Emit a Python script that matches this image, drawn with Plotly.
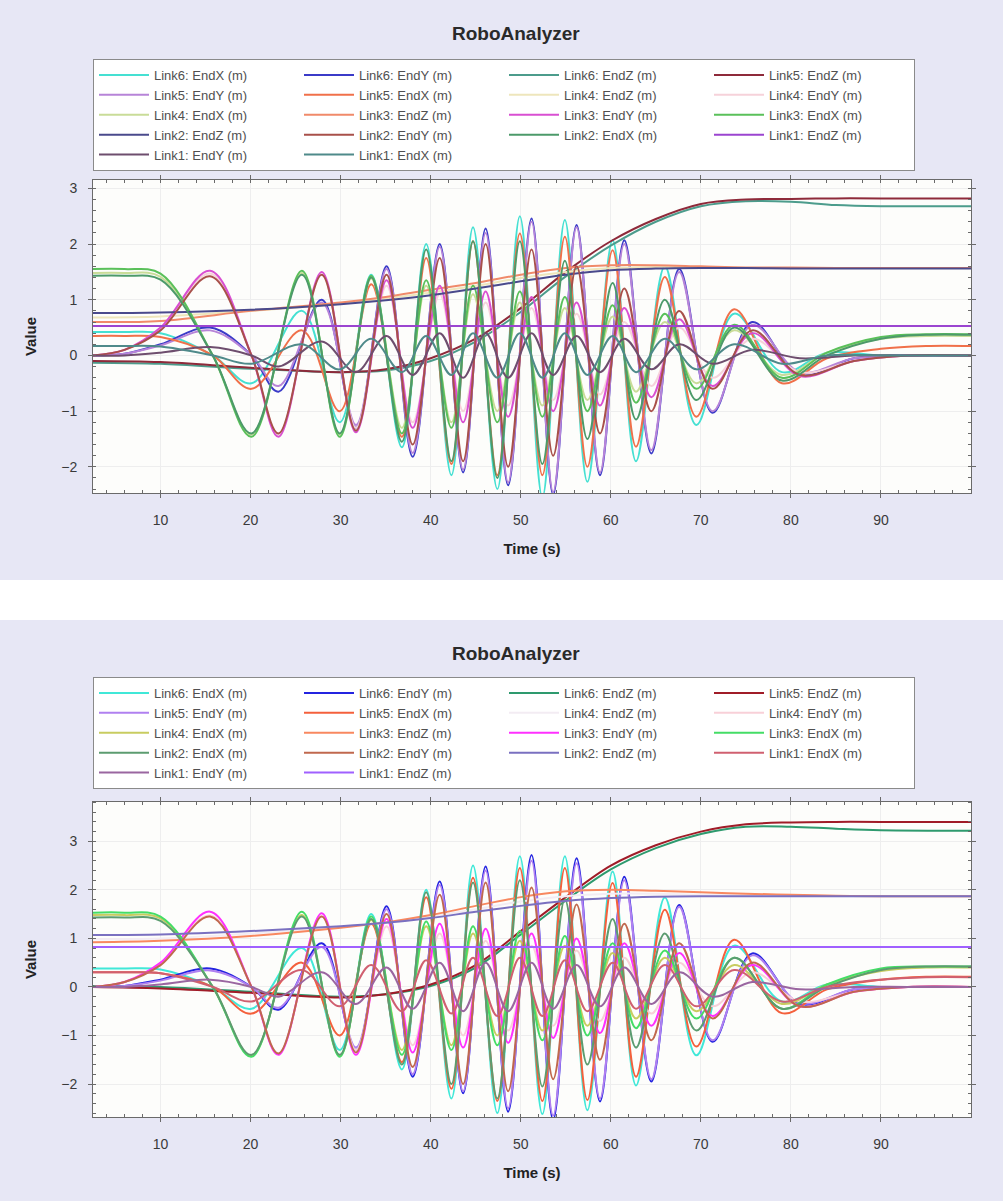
import plotly.graph_objects as go

# ---------------- time knots (s) ----------------
T_X = [2.5, 6, 10, 15.8, 20.1, 25.7, 29.9, 33.4, 36.8, 39.5, 42.3, 44.7, 47.4, 49.9, 52.4,
       54.9, 57.4, 60.2, 62.8, 66.0, 69.5, 73.7, 79.0, 84, 90, 95, 100]
T_Y = [2.5, 6, 10, 15.5, 20.1, 23.1, 27.9, 31.7, 35.1, 38.0, 41.0, 43.6, 46.1, 48.6, 51.2,
       53.6, 56.2, 58.8, 61.5, 64.5, 67.6, 71.3, 75.7, 81.0, 87, 93, 100]
T_Z = [2.5, 10, 20, 30, 35, 40, 45, 50, 55, 60, 65, 70, 75, 80, 85, 90, 100]
T_CONST = [2.5, 100]

# ---------------- top chart values (m) ----------------
TOP_L6_X = [0.42, 0.42, 0.40, 0.0, -0.5, 0.8, -1.2, 1.45, -1.65, 2.0, -2.15, 2.3, -2.4, 2.5, -2.55, 2.43, -2.27, 2.07, -1.9, 1.6, -1.25, 0.75, -0.3, 0.05, 0.0, 0.0, 0.0]
TOP_L6_Y = [0.0, 0.03, 0.2, 0.5, 0.0, -0.65, 1.0, -1.3, 1.6, -1.82, 2.0, -2.1, 2.28, -2.33, 2.46, -2.5, 2.34, -2.15, 2.07, -1.76, 1.55, -1.03, 0.6, -0.35, -0.05, 0.0, 0.0]
TOP_L6_Z = [-0.13, -0.15, -0.24, -0.3, -0.27, -0.1, 0.25, 0.78, 1.42, 1.97, 2.4, 2.68, 2.77, 2.76, 2.7, 2.68, 2.68]
TOP_L5_Z = [-0.1, -0.12, -0.22, -0.3, -0.25, -0.05, 0.3, 0.85, 1.5, 2.05, 2.45, 2.72, 2.8, 2.81, 2.82, 2.82, 2.82]
TOP_L5_Y = [0.0, 0.03, 0.18, 0.45, 0.0, -0.55, 0.95, -1.25, 1.55, -1.75, 1.95, -2.05, 2.2, -2.28, 2.4, -2.45, 2.3, -2.1, 2.0, -1.7, 1.5, -1.0, 0.55, -0.3, -0.05, 0.0, 0.0]
TOP_L5_X = [0.35, 0.35, 0.33, 0.0, -0.6, 0.45, -1.0, 1.28, -1.46, 1.75, -1.95, 2.05, -2.15, 2.19, -2.15, 2.13, -2.0, 1.89, -1.64, 1.41, -1.1, 0.83, -0.5, -0.05, 0.12, 0.17, 0.17]
TOP_L4_Z = [0.68, 0.7, 0.8, 0.93, 1.02, 1.13, 1.25, 1.39, 1.5, 1.57, 1.59, 1.58, 1.57, 1.57, 1.57, 1.57, 1.57]
TOP_L4_Y = [0.0, 0.1, 0.48, 1.47, 0.0, -1.42, 1.45, -1.3, 1.25, -1.2, 1.1, -1.0, 0.95, -0.9, 0.85, -0.8, 0.75, -0.7, 0.6, -0.55, 0.5, -0.4, 0.3, -0.3, -0.1, 0.0, 0.0]
TOP_L4_X = [1.48, 1.48, 1.41, 0.0, -1.42, 1.48, -1.42, 1.38, -1.3, 1.25, -1.2, 1.1, -1.0, 0.95, -0.9, 0.85, -0.8, 0.7, -0.65, 0.6, -0.5, 0.45, -0.35, 0.05, 0.3, 0.35, 0.35]
TOP_L3_Z = [0.6, 0.62, 0.8, 0.95, 1.05, 1.18, 1.3, 1.45, 1.57, 1.62, 1.62, 1.6, 1.58, 1.58, 1.57, 1.57, 1.57]
TOP_L3_Y = [0.0, 0.1, 0.5, 1.52, 0.0, -1.46, 1.5, -1.38, 1.35, -1.3, 1.25, -1.2, 1.15, -1.1, 1.05, -1.0, 0.95, -0.9, 0.85, -0.75, 0.65, -0.55, 0.4, -0.37, -0.1, 0.0, 0.0]
TOP_L3_X = [1.55, 1.55, 1.47, 0.0, -1.46, 1.52, -1.46, 1.43, -1.4, 1.35, -1.3, 1.25, -1.2, 1.15, -1.1, 1.05, -1.0, 0.9, -0.85, 0.75, -0.6, 0.55, -0.4, 0.05, 0.33, 0.38, 0.38]
TOP_L2_Z = [0.76, 0.77, 0.82, 0.92, 0.99, 1.08, 1.2, 1.33, 1.45, 1.53, 1.56, 1.57, 1.57, 1.56, 1.56, 1.56, 1.56]
TOP_L2_Y = [0.0, 0.1, 0.45, 1.42, 0.0, -1.4, 1.45, -1.35, 1.45, -1.6, 1.75, -1.9, 2.0, -2.0, 1.9, -1.8, 1.6, -1.4, 1.2, -1.0, 0.8, -0.6, 0.45, -0.35, -0.1, 0.0, 0.0]
TOP_L2_X = [1.43, 1.43, 1.36, 0.0, -1.4, 1.45, -1.4, 1.4, -1.55, 1.9, -1.9, 2.05, -2.2, 2.05, -1.95, 1.7, -1.5, 1.3, -1.15, 1.0, -0.8, 0.5, -0.45, 0.0, 0.3, 0.37, 0.37]
TOP_L1_Z = [0.53, 0.53]
TOP_L1_Y = [0.0, 0.0, 0.05, 0.15, 0.0, -0.2, 0.25, -0.3, 0.35, -0.35, 0.4, -0.4, 0.4, -0.4, 0.4, -0.35, 0.35, -0.3, 0.3, -0.25, 0.2, -0.15, 0.1, -0.05, 0.0, 0.0, 0.0]
TOP_L1_X = [0.17, 0.17, 0.16, 0.0, -0.15, 0.2, -0.25, 0.3, -0.3, 0.35, -0.35, 0.4, -0.4, 0.4, -0.4, 0.4, -0.35, 0.35, -0.3, 0.3, -0.25, 0.2, -0.15, 0.0, 0.0, 0.0, 0.0]

# ---------------- bottom chart values (m) ----------------
BOT_L6_X = [0.38, 0.38, 0.36, 0.0, -0.45, 0.8, -1.3, 1.5, -1.7, 2.0, -2.3, 2.5, -2.6, 2.69, -2.62, 2.69, -2.54, 2.38, -2.03, 1.84, -1.41, 0.85, -0.3, 0.05, 0.0, 0.0, 0.0]
BOT_L6_Y = [0.0, 0.02, 0.15, 0.38, 0.0, -0.47, 0.9, -1.3, 1.66, -1.85, 2.17, -2.19, 2.48, -2.57, 2.72, -2.74, 2.65, -2.36, 2.27, -1.95, 1.69, -1.13, 0.69, -0.35, -0.05, 0.0, 0.0]
BOT_L6_Z = [0.02, 0.0, -0.1, -0.2, -0.15, 0.02, 0.4, 1.08, 1.78, 2.42, 2.86, 3.15, 3.3, 3.3, 3.26, 3.23, 3.22]
BOT_L5_Z = [0.0, -0.03, -0.12, -0.22, -0.15, 0.05, 0.45, 1.15, 1.85, 2.5, 2.92, 3.2, 3.35, 3.39, 3.4, 3.4, 3.4]
BOT_L5_Y = [0.0, 0.02, 0.13, 0.34, 0.0, -0.43, 0.82, -1.25, 1.6, -1.8, 2.1, -2.15, 2.4, -2.5, 2.6, -2.65, 2.55, -2.3, 2.2, -1.9, 1.65, -1.1, 0.65, -0.33, -0.05, 0.0, 0.0]
BOT_L5_X = [0.3, 0.3, 0.28, 0.0, -0.55, 0.5, -1.0, 1.3, -1.55, 1.85, -2.1, 2.25, -2.35, 2.45, -2.35, 2.45, -2.33, 2.14, -1.85, 1.59, -1.23, 0.97, -0.54, -0.05, 0.15, 0.21, 0.21]
BOT_L4_Z = [0.98, 1.0, 1.1, 1.23, 1.32, 1.45, 1.6, 1.76, 1.87, 1.92, 1.92, 1.9, 1.89, 1.88, 1.87, 1.87, 1.87]
BOT_L4_Y = [0.0, 0.1, 0.48, 1.47, 0.0, -1.38, 1.45, -1.3, 1.25, -1.2, 1.1, -1.0, 0.95, -0.9, 0.85, -0.8, 0.75, -0.7, 0.6, -0.55, 0.5, -0.4, 0.3, -0.3, -0.1, 0.0, 0.0]
BOT_L4_X = [1.48, 1.48, 1.41, 0.0, -1.42, 1.48, -1.42, 1.38, -1.3, 1.25, -1.2, 1.1, -1.0, 0.95, -0.9, 0.85, -0.8, 0.7, -0.65, 0.6, -0.5, 0.45, -0.35, 0.05, 0.33, 0.4, 0.4]
BOT_L3_Z = [0.92, 0.95, 1.05, 1.22, 1.33, 1.48, 1.67, 1.85, 1.97, 2.0, 1.98, 1.95, 1.92, 1.9, 1.88, 1.87, 1.87]
BOT_L3_Y = [0.0, 0.1, 0.5, 1.55, 0.0, -1.4, 1.52, -1.4, 1.4, -1.35, 1.3, -1.25, 1.2, -1.15, 1.1, -1.05, 1.0, -0.95, 0.9, -0.8, 0.7, -0.6, 0.45, -0.4, -0.1, 0.0, 0.0]
BOT_L3_X = [1.53, 1.53, 1.45, 0.0, -1.44, 1.55, -1.44, 1.45, -1.4, 1.35, -1.3, 1.25, -1.2, 1.15, -1.1, 1.05, -1.0, 0.9, -0.85, 0.75, -0.65, 0.6, -0.45, 0.05, 0.38, 0.42, 0.42]
BOT_L2_X = [1.43, 1.43, 1.36, 0.0, -1.4, 1.45, -1.4, 1.4, -1.6, 1.95, -2.0, 2.15, -2.3, 2.2, -2.05, 1.8, -1.6, 1.4, -1.25, 1.1, -0.9, 0.6, -0.45, 0.0, 0.35, 0.42, 0.42]
BOT_L2_Y = [0.0, 0.1, 0.45, 1.45, 0.0, -1.37, 1.45, -1.35, 1.5, -1.65, 1.9, -2.0, 2.15, -2.15, 2.05, -1.9, 1.7, -1.5, 1.3, -1.1, 0.9, -0.65, 0.5, -0.4, -0.1, 0.0, 0.0]
BOT_L2_Z = [1.07, 1.08, 1.15, 1.25, 1.32, 1.42, 1.55, 1.67, 1.77, 1.83, 1.86, 1.87, 1.87, 1.87, 1.87, 1.87, 1.87]
BOT_L1_X = [0.3, 0.3, 0.28, 0.0, -0.3, 0.35, -0.4, 0.45, -0.5, 0.55, -0.55, 0.6, -0.6, 0.6, -0.6, 0.55, -0.5, 0.5, -0.45, 0.45, -0.4, 0.35, -0.3, 0.0, 0.15, 0.2, 0.2]
BOT_L1_Y = [0.0, 0.0, 0.05, 0.15, 0.0, -0.2, 0.3, -0.35, 0.4, -0.45, 0.5, -0.5, 0.5, -0.5, 0.5, -0.45, 0.45, -0.4, 0.4, -0.35, 0.3, -0.2, 0.1, -0.05, 0.0, 0.0, 0.0]
BOT_L1_Z = [0.82, 0.82]

X_TICKS = [10, 20, 30, 40, 50, 60, 70, 80, 90]
Y_TICKS = [-2, -1, 0, 1, 2, 3]
TITLE = "RoboAnalyzer"

# (legend label, times, values, colour) in legend order
TOP_SERIES = [
    ("Link6: EndX (m)", T_X, TOP_L6_X, "#45e0d2"),
    ("Link6: EndY (m)", T_Y, TOP_L6_Y, "#3b3bc8"),
    ("Link6: EndZ (m)", T_Z, TOP_L6_Z, "#4c9c8c"),
    ("Link5: EndZ (m)", T_Z, TOP_L5_Z, "#8e2a3a"),
    ("Link5: EndY (m)", T_Y, TOP_L5_Y, "#b784d8"),
    ("Link5: EndX (m)", T_X, TOP_L5_X, "#f0704a"),
    ("Link4: EndZ (m)", T_Z, TOP_L4_Z, "#eee6bc"),
    ("Link4: EndY (m)", T_Y, TOP_L4_Y, "#f6d2da"),
    ("Link4: EndX (m)", T_X, TOP_L4_X, "#c9dc98"),
    ("Link3: EndZ (m)", T_Z, TOP_L3_Z, "#f08a6a"),
    ("Link3: EndY (m)", T_Y, TOP_L3_Y, "#d94fd2"),
    ("Link3: EndX (m)", T_X, TOP_L3_X, "#5ac05a"),
    ("Link2: EndZ (m)", T_Z, TOP_L2_Z, "#4a4a8c"),
    ("Link2: EndY (m)", T_Y, TOP_L2_Y, "#a8504a"),
    ("Link2: EndX (m)", T_X, TOP_L2_X, "#4c9a6a"),
    ("Link1: EndZ (m)", T_CONST, TOP_L1_Z, "#9b45d0"),
    ("Link1: EndY (m)", T_Y, TOP_L1_Y, "#6e4e6e"),
    ("Link1: EndX (m)", T_X, TOP_L1_X, "#4f8a8a"),
]
BOT_SERIES = [
    ("Link6: EndX (m)", T_X, BOT_L6_X, "#40e8d8"),
    ("Link6: EndY (m)", T_Y, BOT_L6_Y, "#2424e0"),
    ("Link6: EndZ (m)", T_Z, BOT_L6_Z, "#2e9a6e"),
    ("Link5: EndZ (m)", T_Z, BOT_L5_Z, "#a01c28"),
    ("Link5: EndY (m)", T_Y, BOT_L5_Y, "#b080f0"),
    ("Link5: EndX (m)", T_X, BOT_L5_X, "#f4603c"),
    ("Link4: EndZ (m)", T_Z, BOT_L4_Z, "#f3ecf3"),
    ("Link4: EndY (m)", T_Y, BOT_L4_Y, "#f8d0d8"),
    ("Link4: EndX (m)", T_X, BOT_L4_X, "#c8cc60"),
    ("Link3: EndZ (m)", T_Z, BOT_L3_Z, "#f88860"),
    ("Link3: EndY (m)", T_Y, BOT_L3_Y, "#ff30ff"),
    ("Link3: EndX (m)", T_X, BOT_L3_X, "#44dd66"),
    ("Link2: EndX (m)", T_X, BOT_L2_X, "#5c9c70"),
    ("Link2: EndY (m)", T_Y, BOT_L2_Y, "#c0684e"),
    ("Link2: EndZ (m)", T_Z, BOT_L2_Z, "#7a70c0"),
    ("Link1: EndX (m)", T_X, BOT_L1_X, "#d06070"),
    ("Link1: EndY (m)", T_Y, BOT_L1_Y, "#9a66a0"),
    ("Link1: EndZ (m)", T_CONST, BOT_L1_Z, "#a060ff"),
]

W, H = 1003, 1201
ML, MR = 93, 32
PW = W - ML - MR
FONT = "Liberation Sans, Arial, sans-serif"


def py(pix):
    return 1 - pix / H


def px(pix):
    return (pix - ML) / PW


fig = go.Figure()
for name, t, v, col in TOP_SERIES:
    fig.add_trace(go.Scatter(x=t, y=v, name=name, mode="lines",
                             line=dict(color=col, width=2, shape="spline", smoothing=1.0),
                             xaxis="x", yaxis="y", legend="legend"))
for name, t, v, col in BOT_SERIES:
    fig.add_trace(go.Scatter(x=t, y=v, name=name, mode="lines",
                             line=dict(color=col, width=2, shape="spline", smoothing=1.0),
                             xaxis="x2", yaxis="y2", legend="legend2"))

axis_common = dict(
    showline=True, linecolor="#6a6a6a", linewidth=1, mirror="allticks",
    ticks="outside", ticklen=4, tickcolor="#6a6a6a",
    showgrid=True, gridcolor="#eeeeee", zeroline=False,
    tickfont=dict(family=FONT, size=14, color="#3a3a3a"),
    automargin=False,
)
xcommon = dict(axis_common, range=[2.5, 100], tickvals=X_TICKS, ticklabelstandoff=10,
               minor=dict(dtick=2, ticks="inside", ticklen=3, tickcolor="#6a6a6a", showgrid=False))
ycommon = dict(axis_common, tickvals=Y_TICKS, ticklabelstandoff=8,
               minor=dict(dtick=0.2, ticks="inside", ticklen=3, tickcolor="#6a6a6a", showgrid=False))

title_font = dict(family=FONT, size=15, color="#222")

legend_common = dict(orientation="h", x=0, xanchor="left", yanchor="top",
                     bgcolor="#ffffff", bordercolor="#8a8a8a", borderwidth=1,
                     font=dict(family=FONT, size=13, color="#505050"),
                     entrywidth=140, itemwidth=50, traceorder="normal")

fig.update_layout(
    width=W, height=H,
    margin=dict(l=ML, r=MR, t=0, b=0),
    paper_bgcolor="#e7e7f5",
    plot_bgcolor="#fdfdfb",
    showlegend=True,
    xaxis=dict(xcommon, domain=[0, 1], anchor="y",
               title=dict(text="<b>Time (s)</b>", font=title_font, standoff=16)),
    yaxis=dict(ycommon, domain=[py(493), py(180)], range=[-2.47, 3.15], anchor="x",
               title=dict(text="<b>Value</b>", font=title_font, standoff=20)),
    xaxis2=dict(xcommon, domain=[0, 1], anchor="y2",
                title=dict(text="<b>Time (s)</b>", font=title_font, standoff=16)),
    yaxis2=dict(ycommon, domain=[py(1117), py(802)], range=[-2.68, 3.81], anchor="x2",
                title=dict(text="<b>Value</b>", font=title_font, standoff=20)),
    legend=dict(legend_common, y=py(59)),
    legend2=dict(legend_common, y=py(677)),
    annotations=[
        dict(text="<b>" + TITLE + "</b>", xref="paper", yref="paper", x=px(516), y=py(33),
             xanchor="center", yanchor="middle", showarrow=False,
             font=dict(family=FONT, size=19, color="#2a2a2a")),
        dict(text="<b>" + TITLE + "</b>", xref="paper", yref="paper", x=px(516), y=py(653),
             xanchor="center", yanchor="middle", showarrow=False,
             font=dict(family=FONT, size=19, color="#2a2a2a")),
    ],
    shapes=[
        dict(type="rect", xref="paper", yref="paper", x0=px(0), x1=px(W), y0=py(620), y1=py(580),
             fillcolor="#ffffff", line=dict(width=0), layer="below"),
    ],
)

fig.write_html("out.html")
